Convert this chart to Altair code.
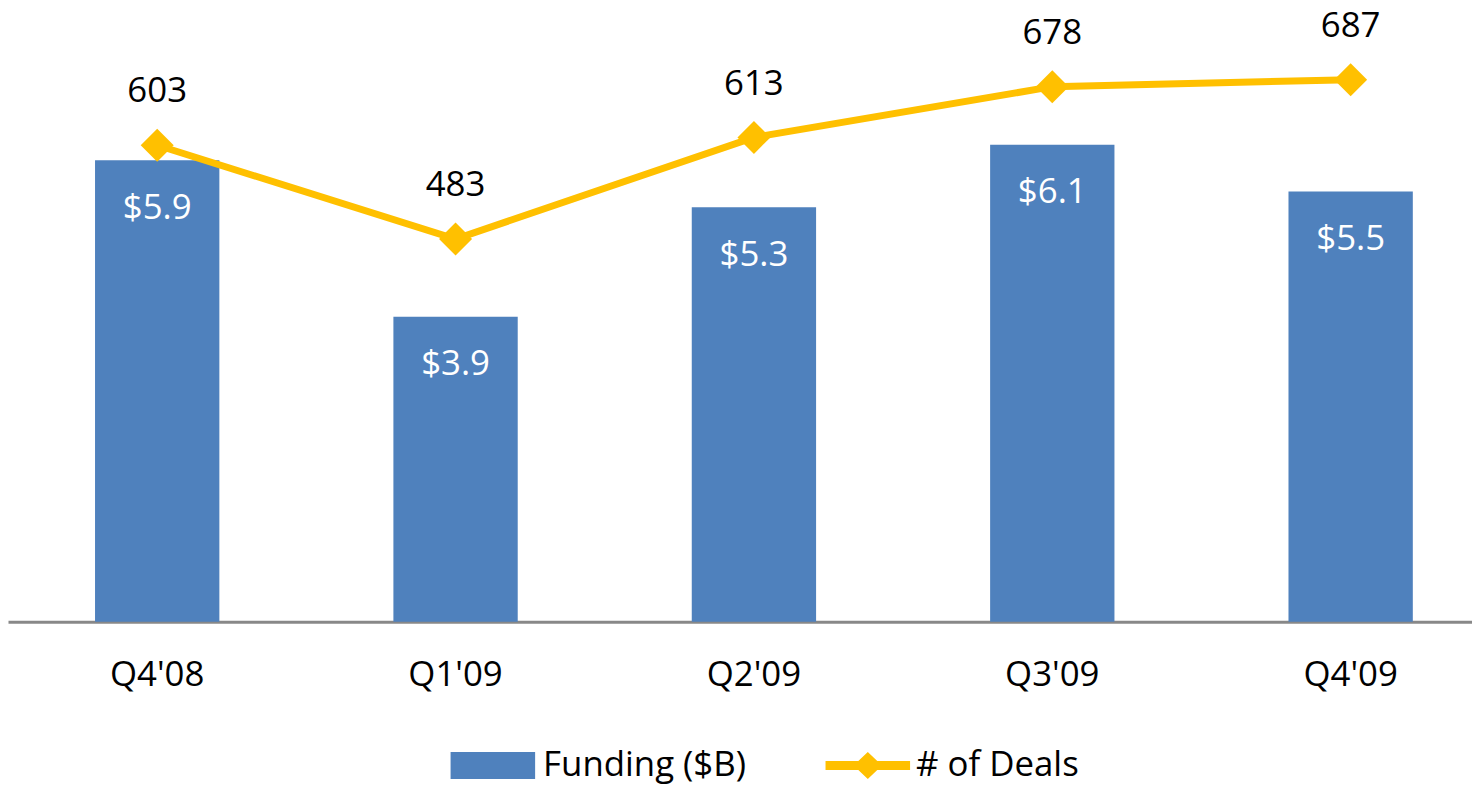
import altair as alt
import pandas as pd

quarters = ["Q4'08", "Q1'09", "Q2'09", "Q3'09", "Q4'09"]
funding = [5.9, 3.9, 5.3, 6.1, 5.5]
deals = [603, 483, 613, 678, 687]
funding_labels = ["$5.9", "$3.9", "$5.3", "$6.1", "$5.5"]

df = pd.DataFrame({
    "quarter": quarters,
    "funding": funding,
    "deals": deals,
    "flabel": funding_labels,
    "s1": "Funding ($B)",
    "s2": "# of Deals",
})

BLUE = "#4F81BD"
GOLD = "#FFC000"
FONT = "Open Sans"
RECT = "M-1,-0.318H1V0.318H-1Z"
LINE_DIAMOND = "M-1,-0.106H-0.224L0,-0.318L0.224,-0.106H1V0.106H0.224L0,0.318L-0.224,0.106H-1Z"

xscale = alt.Scale(range=[0, 1500], paddingInner=0.5833, paddingOuter=0.2917)
xaxis = alt.Axis(title=None, labelAngle=0, labelFont=FONT, labelFontSize=35, labelColor="#000000",
                 labelBaseline="alphabetic", labelPadding=64, ticks=False, tickSize=0,
                 domainColor="#888888", domainWidth=3, labelOverlap=False, grid=False)
x_bar = alt.X("quarter:N", sort=quarters, scale=xscale, axis=xaxis)
x_mid = alt.X("quarter:N", sort=quarters, scale=xscale, axis=xaxis, bandPosition=0.5)

yF = alt.Y("funding:Q", scale=alt.Scale(domain=[0, 7.82], nice=False, zero=False), axis=None)
yD = alt.Y("deals:Q", scale=alt.Scale(domain=[-7, 776], nice=False, zero=False), axis=None)

legend_common = dict(title=None, orient="none", symbolSize=7225, labelFont=FONT, labelFontSize=35,
                     labelColor="#000000", padding=0, symbolStrokeWidth=0, labelLimit=0)

bars = alt.Chart(df).mark_bar().encode(
    x=x_bar, y=yF,
    color=alt.Color("s1:N", scale=alt.Scale(domain=["Funding ($B)"], range=[BLUE]),
                    legend=alt.Legend(legendX=445, legendY=717, symbolType=RECT, labelOffset=8,
                                      **legend_common)),
)
bar_text = alt.Chart(df).mark_text(color="white", font=FONT, fontSize=35, baseline="alphabetic", dy=59).encode(
    x=x_mid, y=yF, text="flabel:N")

line = alt.Chart(df).mark_line(color=GOLD, strokeWidth=7).encode(x=x_mid, y=yD)
points = alt.Chart(df).mark_point(shape="diamond", filled=True, size=1100, opacity=1).encode(
    x=x_mid, y=yD,
    color=alt.Color("s2:N", scale=alt.Scale(domain=["# of Deals"], range=[GOLD]),
                    legend=alt.Legend(legendX=822, legendY=717, symbolType=LINE_DIAMOND, labelOffset=6,
                                      **legend_common)),
)
deal_text = alt.Chart(df).mark_text(color="#000000", font=FONT, fontSize=35, baseline="alphabetic", dy=-43).encode(
    x=x_mid, y=yD, text="deals:Q")

chart = alt.layer(bars, bar_text, line, points, deal_text).resolve_scale(
    y="independent", color="independent"
).properties(
    width=1472, height=615,
    autosize=alt.AutoSizeParams(type="none"),
    padding={"left": 0, "top": 0, "right": 0, "bottom": 166},
    background="white",
).configure_view(stroke=None)

chart.save("out.html", embed_options={"renderer": "svg", "actions": False})
